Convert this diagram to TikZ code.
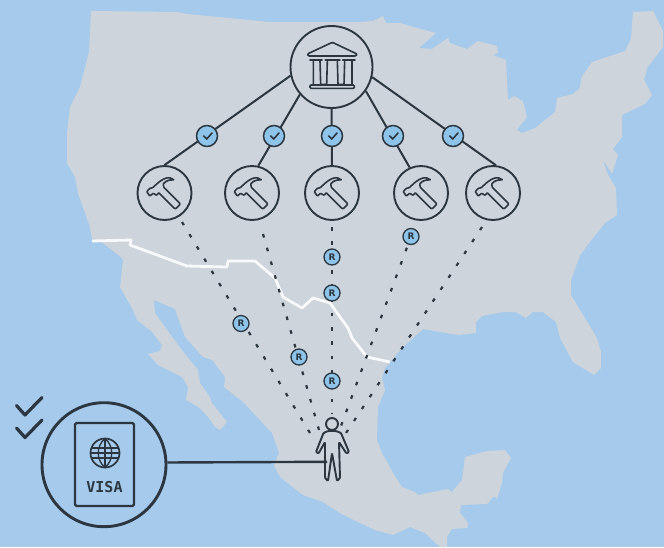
\documentclass[tikz,border=0pt]{standalone}
\usepackage{fontspec}
\usetikzlibrary{calc}
\newfontfamily\visafont{DejaVu Sans Mono}
\newfontfamily\badgefont{DejaVu Sans}
\definecolor{sea}{HTML}{A6CAEB}
\definecolor{land}{HTML}{CDD4DB}
\definecolor{ink}{HTML}{2B3640}
\definecolor{badge}{HTML}{8EC4E9}
\tikzset{
  x=1pt,y=-1pt,
  bigcirc/.style={circle,draw=ink,line width=1.9pt,minimum size=82pt,inner sep=0pt},
  toolcirc/.style={circle,draw=ink,line width=1.9pt,minimum size=54pt,inner sep=0pt},
  visacirc/.style={circle,draw=ink,line width=2.9pt,minimum size=124pt,inner sep=0pt},
  okbadge/.style={circle,draw=ink,fill=badge,line width=1.5pt,minimum size=21pt,inner sep=0pt},
  rbadge/.style={circle,draw=ink,fill=badge,line width=1.3pt,minimum size=16pt,inner sep=0pt,
    text=ink,font=\badgefont\bfseries\fontsize{9}{9}\selectfont},
  solidlink/.style={draw=ink,line width=2pt},
  dotlink/.style={draw=ink,line width=2.2pt,dash pattern=on 3.6pt off 10.7pt},
  iconline/.style={draw=ink,line width=1.6pt,line join=round,line cap=round},
  pics/hammer/.style={code={
    \draw[iconline,rounded corners=0.6pt] (9.3,-13) .. controls (5,-16.5) and (1,-16) .. (-6.3,-10.3)
      -- (-12,-5.2) -- (-14.7,-4.7) -- (-17.7,-1.3) -- (-14.7,3) -- (-11.3,.3) -- (-8,2.3) -- (-5.7,-.3)
      -- (9.7,15.3) -- (11.5,15.6) -- (15.3,11.7) -- (15.3,10.3) -- (-.7,-5.7) -- (-1.3,-9)
      .. controls (1,-12) and (5,-13.5) .. cycle;
  }},
  pics/tick/.style={code={
    \draw[draw=ink,line width=1.6pt,line cap=round,line join=round] (-3.3,0) -- (-.3,3) -- (5,-3);
  }}
}
\begin{document}
\begin{tikzpicture}
\useasboundingbox (0,0) rectangle (664,547);
\fill[sea] (0,0) rectangle (664,547);
% land
\fill[land] (91,11) -- (177,12) -- (187,14) -- (270,22) -- (360,22) -- (373,21) -- (383,16) -- (386,23)
 -- (400,23) -- (417,28) -- (436,33) -- (419,48) -- (432,49) -- (448,38) -- (450,43) -- (467,49)
 -- (478,41) -- (497,46) -- (498,53) -- (493,55) -- (506,60) -- (508,100) -- (514,96) -- (523,101)
 -- (527,117) -- (517,130) -- (522,133) -- (535,128) -- (555,112) -- (557,98) -- (573,94) -- (580,88)
 -- (581,78) -- (592,62) -- (625,51) -- (631,39) -- (633,12) -- (653,11) -- (663,31) -- (663,47)
 -- (647,68) -- (644,80) -- (652,95) -- (645,104) -- (622,115) -- (622,137) -- (613,149) -- (618,155)
 -- (612,174) -- (603,160) -- (608,175) -- (616,188) -- (617,215) -- (605,223) -- (593,238) -- (580,255)
 -- (571,280) -- (571,295) -- (597,338) -- (601,352) -- (601,368) -- (594,375) -- (573,362) -- (560,338)
 -- (556,322) -- (543,312) -- (533,312) -- (526,318) -- (516,312) -- (503,312) -- (482,316) -- (476,322)
 -- (476,333) -- (458,335) -- (423,329) -- (402,348) -- (392,360) -- (385,368) -- (382,378) -- (385,390)
 -- (378,407) -- (377,440) -- (382,453) -- (393,473) -- (402,487) -- (415,492) -- (418,495) -- (448,489)
 -- (452,492) -- (462,480) -- (465,457) -- (487,451) -- (505,450) -- (511,458) -- (503,473) -- (502,483)
 -- (497,499) -- (494,496) -- (487,504) -- (461,505) -- (460,513) -- (468,523) -- (467,528) -- (452,529)
 -- (447,537) -- (447,547) -- (440,547) -- (425,533) -- (410,527) -- (393,535) -- (375,530) -- (360,523)
 -- (340,513) -- (323,502) -- (303,495) -- (280,477) -- (274,465) -- (279,453) -- (272,433) -- (243,402)
 -- (224,387) -- (225,377) -- (212,360) -- (203,357) -- (185,337) -- (175,309) -- (154,300) -- (155,313)
 -- (178,345) -- (198,370) -- (200,383) -- (210,397) -- (212,403) -- (227,422) -- (220,430) -- (215,427)
 -- (208,417) -- (200,408) -- (186,400) -- (188,387) -- (182,377) -- (158,365) -- (148,354) -- (160,351)
 -- (162,345) -- (152,332) -- (137,320) -- (133,310) -- (120,287) -- (123,260) -- (122,258) -- (103,243)
 -- (92,240) -- (90,227)
 -- (78,193) -- (75,177) -- (67,163) -- (67,133) -- (70,107) -- (80,87) -- (89,52) -- cycle;
% border
\draw[white!85!land,line width=2.8pt,line join=round] (92,241) -- (131,240) -- (130,245) -- (187,266) -- (227,267)
 -- (228,261) -- (255,261) -- (275,278) -- (283,297) -- (302,308) -- (313,298) -- (330,303) -- (348,328)
 -- (352,338) -- (367,357) -- (390,362);

% nodes
\node[bigcirc] (bank) at (331.5,67) {};
\node[toolcirc] (h1) at (164.5,193) {};
\node[toolcirc] (h2) at (252,193) {};
\node[toolcirc] (h3) at (332,193) {};
\node[toolcirc] (h4) at (421,193) {};
\node[toolcirc] (h5) at (493,193) {};
\node[visacirc] (visa) at (104,464.7) {};

% coordinates of the free ends
\coordinate (d1) at (182,222);  \coordinate (e1) at (310,433);
\coordinate (d2) at (263,234);  \coordinate (e2) at (319,430);
\coordinate (d3) at (332,227);  \coordinate (e3) at (332,414);
\coordinate (e4) at (341,426);
\coordinate (d5) at (482,227);  \coordinate (e5) at (346,433);
\coordinate (wire) at (327,461.8);

% solid links
\draw[solidlink] (bank.192) -- (h1.north);
\draw[solidlink] (bank.221) -- (h2.77);
\draw[solidlink] (bank.south) -- (h3.north);
\draw[solidlink] (bank.325) -- (h4.114);
\draw[solidlink] (bank.346) -- (h5.84);
\draw[draw=ink,line width=2.4pt] (visa.2.8) -- (wire);

% dotted links
\node[rbadge] (r4) at (411,236.5) {R};
\draw[dotlink] (d1) -- (e1);
\draw[dotlink] (d2) -- (e2);
\draw[dotlink] (d3) -- (e3);
\draw[dotlink] ($(r4)!12pt!(e4)$) -- (e4);
\draw[dotlink] (d5) -- (e5);

% badges
\foreach \n/\xx in {b1/207,b2/274,b3/332,b4/393,b5/453}{
  \node[okbadge] (\n) at (\xx,136) {};
  \pic at (\n) {tick};
}
\node[rbadge] (r1) at (241,323.5) {R};
\node[rbadge] (r2) at (299,357) {R};
\node[rbadge] (r3) at (332,257) {R};
\node[rbadge] (r5) at (332,293) {R};
\node[rbadge] (r6) at (332,381) {R};

% hammers
\foreach \n in {h1,h2,h3,h4,h5}{ \pic at (\n) {hammer}; }

% bank icon
\begin{scope}[shift={(300,35)},x=.33333pt,y=-.33333pt]
 \draw[iconline,rounded corners=1pt] (97,22) -- (22,57) -- (25,63) -- (168,63) -- (171,57) -- cycle;
 \draw[iconline] (30,75) -- (66,75) (76,75) -- (120,75) (128,75) -- (165,75);
 \draw[iconline] (40,78) -- (40,150) (60,78) -- (62,148) -- (80,148) -- (82,78)
   (112,78) -- (114,148) -- (132,148) -- (134,78) (156,78) -- (156,150);
 \draw[iconline,rounded corners=1pt] (30,150) rectangle (163,160);
\end{scope}

% visa icon
\node[draw=ink,line width=2.2pt,rounded corners=1.5pt,minimum width=59pt,minimum height=83pt,inner sep=0pt] (pass) at (104.5,464.5) {};
\node[circle,draw=ink,line width=1.7pt,minimum size=29pt,inner sep=0pt] (globe) at (105,453) {};
\begin{scope}
 \clip (105,453) circle (14.5);
 \draw[draw=ink,line width=1.3pt] (90,448) -- (120,448) (90,453) -- (120,453) (90,458) -- (120,458);
 \draw[draw=ink,line width=1.3pt] (105,438) -- (105,468);
 \draw[draw=ink,line width=1.3pt] (105,438.5) .. controls (96,446) and (96,460) .. (105,467.5);
 \draw[draw=ink,line width=1.3pt] (105,438.5) .. controls (114,446) and (114,460) .. (105,467.5);
\end{scope}
\node[text=ink,font=\visafont\bfseries\fontsize{15}{16}\selectfont,inner sep=0pt] (visatext) at (104.5,487) {VISA};

% ticks beside the visa
\draw[draw=ink,line width=3.2pt,line cap=round,line join=round] (16.5,405.5) -- (25,415) -- (42,397.5);
\draw[draw=ink,line width=3.2pt,line cap=round,line join=round] (16.5,428) -- (25,437.5) -- (42,420);

% person
\node[circle,draw=ink,line width=1.9pt,minimum size=12pt,inner sep=0pt] (head) at (332,424) {};
\draw[iconline,line width=1.9pt,rounded corners=1pt] (328,431) -- (323.5,433) -- (316,452) -- (318.5,453.5) -- (325,442)
  -- (325,478) -- (328,481) -- (332,453) -- (337,481) -- (340,478) -- (339,442) -- (346.5,453.5) -- (349,452)
  -- (341,433) -- (336,431) -- cycle;
\end{tikzpicture}
\end{document}
